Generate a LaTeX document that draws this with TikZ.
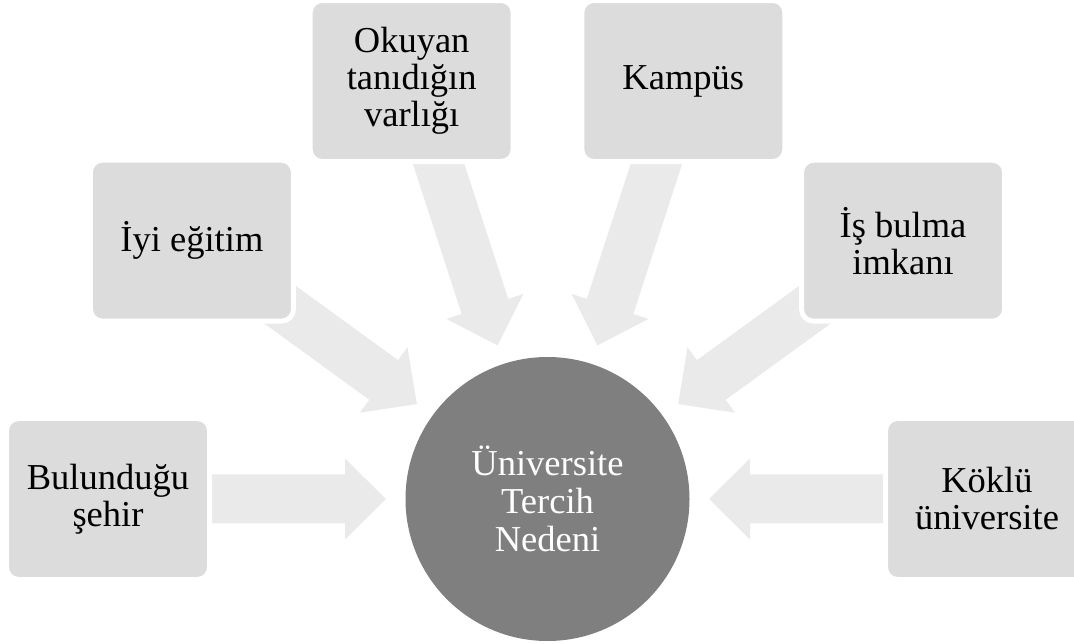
\documentclass[tikz,border=0pt]{standalone}
\usepackage{fontspec}
\setmainfont{Liberation Serif}
\usetikzlibrary{calc,backgrounds}
\definecolor{boxgray}{HTML}{DCDCDC}
\definecolor{arrowgray}{HTML}{EAEAEA}
\definecolor{hubgray}{HTML}{7F7F7F}
\tikzset{
  reason/.style={rectangle, rounded corners=12pt, fill=boxgray, draw=white,
    line width=5pt, minimum width=203pt, minimum height=161pt,
    align=center, inner sep=0pt, text=black,
    font=\fontsize{36.5}{37}\selectfont},
  hub/.style={circle, fill=hubgray, minimum size=284pt, inner sep=0pt,
    align=center, text=white, font=\fontsize{36.5}{38}\selectfont},
  blockarrow/.style={fill=arrowgray}
}
\begin{document}
\begin{tikzpicture}[x=1pt,y=1pt]
  \useasboundingbox (0,0) rectangle (1074,643);
  \clip (0,0) rectangle (1074,643);

  % central circle
  \node[hub] (c) at (547.5,144) {Üniversite\\Tercih\\Nedeni};

  % reasons placed on a ring around the hub
  \node[reason] (b1) at ($(c)+(180:439.5)$) {Bulunduğu\\şehir};
  \node[reason] (b2) at ($(c)+(144:439.5)$) {İyi eğitim};
  \node[reason] (b3) at ($(c)+(108:439.5)$) {Okuyan\\tanıdığın\\varlığı};
  \node[reason] (b4) at ($(c)+(72:439.5)$) {Kampüs};
  \node[reason] (b5) at ($(c)+(36:439.5)$) {İş bulma\\imkanı};
  \node[reason] (b6) at ($(c)+(0:439.5)$) {Köklü\\üniversite};

  % block arrows from each reason towards the hub, behind the boxes
  \begin{scope}[on background layer]
    \foreach \b in {b1,b2,b3,b4,b5,b6}{
      \coordinate (hd) at ($(c)!202.5pt!(\b)$);
      \coordinate (tl) at ($(c)!380pt!(\b)$);
      \fill[blockarrow] ($(c)!161.5pt!(\b)$)
        -- ($(hd)!40.5pt!90:(\b)$)
        -- ($(hd)!24.5pt!90:(\b)$)
        -- ($(tl)!24.5pt!90:(\b)$)
        -- ($(tl)!24.5pt!-90:(\b)$)
        -- ($(hd)!24.5pt!-90:(\b)$)
        -- ($(hd)!40.5pt!-90:(\b)$)
        -- cycle;
    }
  \end{scope}
\end{tikzpicture}
\end{document}
